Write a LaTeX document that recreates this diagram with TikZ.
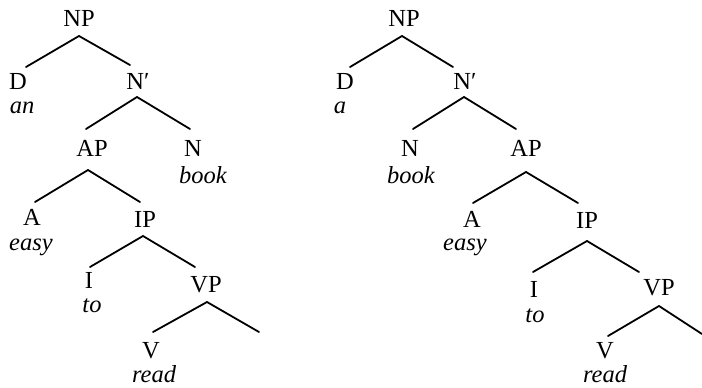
\documentclass[tikz,border=0pt]{standalone}
\usepackage{fontspec}
\setmainfont{Liberation Serif}
\usetikzlibrary{calc}
\begin{document}
\begin{tikzpicture}[x=1pt,y=-1pt,
  cat/.style={inner sep=0pt, anchor=base, font=\fontsize{24.5}{29}\selectfont},
  word/.style={inner sep=0pt, anchor=base, font=\fontsize{24.5}{29}\selectfont\itshape},
  branch/.style={line width=1.8pt, line cap=round}]
\useasboundingbox (0,0) rectangle (702,388);
% ---------------- left tree ----------------
\node[cat] (npL) at (79,27) {NP};
\node[cat] (dL) at (18,89) {D};
\node[word] (anL) at (22,113) {an};
\node[cat] (nbL) at (138,89) {N′};
\node[cat] (apL) at (92,156) {AP};
\node[cat] (nL) at (193,156) {N};
\node[word] (bookL) at (203,183) {book};
\node[cat] (aL) at (32,225) {A};
\node[word] (easyL) at (31,250) {easy};
\node[cat] (ipL) at (145,227) {IP};
\node[cat] (iL) at (89,288) {I};
\node[word] (toL) at (92,312) {to};
\node[cat] (vpL) at (206,292) {VP};
\node[cat] (vL) at (151,358) {V};
\node[word] (readL) at (154,382) {read};
\coordinate (emptyL) at (259,332);
\draw[branch] ($(npL.base)+(0,9)$) -- ($(dL.base)+(8,-22)$);
\draw[branch] ($(npL.base)+(0,9)$) -- ($(nbL.base)+(-8,-24)$);
\draw[branch] ($(nbL.base)+(-1,8)$) -- ($(apL.base)+(-6,-27)$);
\draw[branch] ($(nbL.base)+(-1,8)$) -- ($(nL.base)+(-3,-27)$);
\draw[branch] ($(apL.base)+(-4,14)$) -- ($(aL.base)+(3,-23)$);
\draw[branch] ($(apL.base)+(-4,14)$) -- ($(ipL.base)+(-5,-25)$);
\draw[branch] ($(ipL.base)+(-2,9)$) -- ($(iL.base)+(1,-21)$);
\draw[branch] ($(ipL.base)+(-2,9)$) -- ($(vpL.base)+(-11,-25)$);
\draw[branch] ($(vpL.base)+(1,10)$) -- ($(vL.base)+(2,-26)$);
\draw[branch] ($(vpL.base)+(1,10)$) -- (emptyL);
% ---------------- right tree ----------------
\node[cat] (npR) at (404,27) {NP};
\node[cat] (dR) at (345,89) {D};
\node[word] (aR) at (340,113) {a};
\node[cat] (nbR) at (465,89) {N′};
\node[cat] (nR) at (410,156) {N};
\node[word] (bookR) at (411,183) {book};
\node[cat] (apR) at (526,156) {AP};
\node[cat] (adjR) at (472,227) {A};
\node[word] (easyR) at (465,250) {easy};
\node[cat] (ipR) at (587,228) {IP};
\node[cat] (iR) at (534,297) {I};
\node[word] (toR) at (535,322) {to};
\node[cat] (vpR) at (659,295) {VP};
\node[cat] (vR) at (605,358) {V};
\node[word] (readR) at (605,382) {read};
\coordinate (emptyR) at (702,334);
\draw[branch] ($(npR.base)+(-2,9)$) -- ($(dR.base)+(5,-22)$);
\draw[branch] ($(npR.base)+(-2,9)$) -- ($(nbR.base)+(-12,-22)$);
\draw[branch] ($(nbR.base)+(-1,8)$) -- ($(nR.base)+(3,-27)$);
\draw[branch] ($(nbR.base)+(-1,8)$) -- ($(apR.base)+(-10,-27)$);
\draw[branch] ($(apR.base)+(0,16)$) -- ($(adjR.base)+(1,-24)$);
\draw[branch] ($(apR.base)+(0,16)$) -- ($(ipR.base)+(-9,-25)$);
\draw[branch] ($(ipR.base)+(0,13)$) -- ($(iR.base)+(-1,-25)$);
\draw[branch] ($(ipR.base)+(0,13)$) -- ($(vpR.base)+(-20,-23)$);
\draw[branch] ($(vpR.base)+(0,11)$) -- ($(vR.base)+(3,-22)$);
\draw[branch] ($(vpR.base)+(0,11)$) -- (emptyR);
\end{tikzpicture}
\end{document}
